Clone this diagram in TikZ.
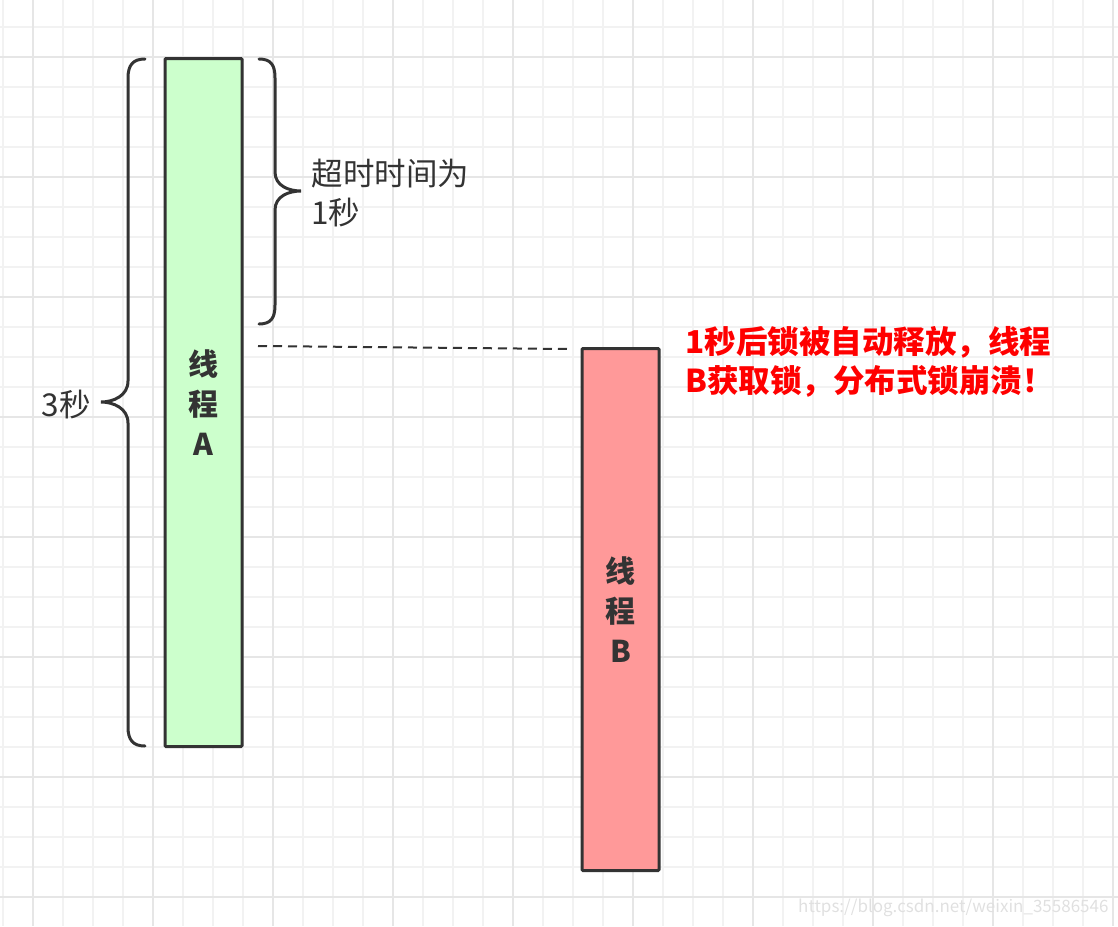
\documentclass[tikz,border=0pt]{standalone}
\usepackage{fontspec}
\setmainfont{Noto Sans CJK SC}
\definecolor{inkgray}{HTML}{333333}
\definecolor{greenfill}{HTML}{CCFFCC}
\definecolor{redfill}{HTML}{FF9999}
\definecolor{gridminor}{HTML}{F2F2F2}
\definecolor{gridmajor}{HTML}{E6E6E6}
\begin{document}
\begin{tikzpicture}[x=1pt, y=-1pt, line width=1pt,
    threadbox/.style={draw=inkgray, line width=3pt, rounded corners=1pt, inner sep=0pt,
      minimum width=77pt, align=center, text=inkgray,
      font=\fontsize{30}{40}\selectfont\bfseries},
    bracepath/.style={draw=inkgray, line width=3pt, line cap=round},
    plainlabel/.style={text=inkgray, inner sep=0pt, font=\fontsize{31.5}{39}\selectfont}]
  \useasboundingbox (0,0) rectangle (1118,926);
  % 网格
  \foreach \x in {3,33,...,1113} \draw[gridminor, line width=1.5pt] (\x,0) -- (\x,926);
  \foreach \y in {27,57,...,917} \draw[gridminor, line width=1.5pt] (0,\y) -- (1118,\y);
  \foreach \x in {33,153,...,1113} \draw[gridmajor, line width=1.5pt] (\x,0) -- (\x,926);
  \foreach \y in {57,177,...,897} \draw[gridmajor, line width=1.5pt] (0,\y) -- (1118,\y);
  % 两个线程
  \node[threadbox, fill=greenfill, minimum height=688pt] (threadA) at (203.5,402.5) {线\\程\\A};
  \node[threadbox, fill=redfill, minimum height=522pt] (threadB) at (620.5,609.5) {线\\程\\B};
  % 大括号
  \draw[bracepath] (145,59) .. controls (133,59) and (128,65) .. (128,78) -- (128,381)
    .. controls (128,396) and (113,402) .. (101,402)
    .. controls (113,402) and (128,408) .. (128,423) -- (128,727)
    .. controls (128,740) and (133,746) .. (145,746);
  \draw[bracepath] (259,59) .. controls (271,59) and (275,65) .. (275,78) -- (275,172)
    .. controls (275,186) and (289,191) .. (301,191)
    .. controls (289,191) and (275,196) .. (275,210) -- (275,305)
    .. controls (275,318) and (271,324) .. (259,324);
  % 虚线
  \coordinate (dashstart) at (258,346);
  \draw[inkgray, line width=2pt, dash pattern=on 9pt off 6pt]
    (dashstart) -- ([xshift=-11pt, yshift=-2pt]threadB.north west);
  % 文字
  \node[plainlabel, anchor=east] (threeSec) at (91,404) {3秒};
  \node[plainlabel, anchor=west, align=left] (timeoutLabel) at (311,193) {超时时间为\\1秒};
  \node[anchor=west, align=left, inner sep=0pt, text=red,
    font=\fontsize{31.5}{39}\selectfont\bfseries] (crashLabel) at (685,362)
    {1秒后锁被自动释放，线程\\B获取锁，分布式锁崩溃！};
  \node[anchor=east, inner sep=0pt, text=black!12, font=\fontsize{17}{17}\selectfont]
    (watermark) at (1109,908) {https://blog.csdn.net/weixin\_35586546};
\end{tikzpicture}
\end{document}
